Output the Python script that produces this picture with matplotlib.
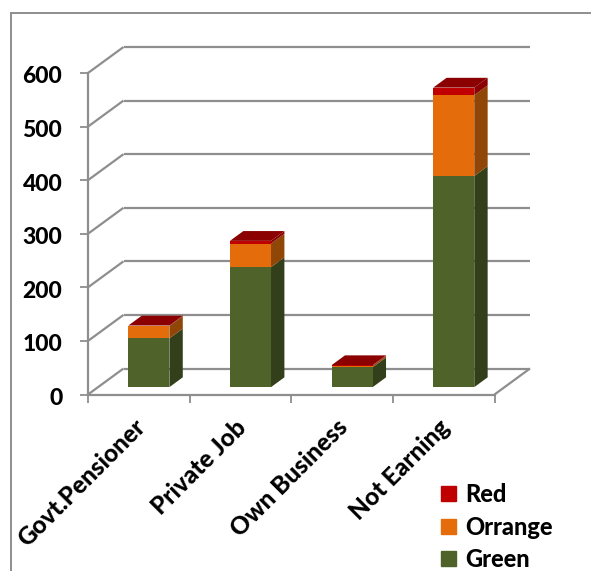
import matplotlib
matplotlib.use("Agg")
import matplotlib.pyplot as plt
from matplotlib.lines import Line2D
from matplotlib.patches import Patch
from matplotlib.transforms import ScaledTranslation

plt.rcParams['font.family'] = ['Lato', 'DejaVu Sans']
plt.rcParams['font.weight'] = 'bold'

categories = ['Govt.Pensioner', 'Private Job', 'Own Business', 'Not Earning']
green = [91, 224, 37, 394]
orrange = [23, 44, 3, 151]
red = [1, 5, 1, 14]
y_ticks = [0, 100, 200, 300, 400, 500, 600]

front_cols = ['#4F622A', '#E46C0A', '#C00000']
side_cols = ['#323F1A', '#8F4606', '#8B0000']
top_col = '#8B0000'
line_col = '#8E8E8E'

W, H = 591, 571
fig = plt.figure(figsize=(W / 100, H / 100), dpi=100)
ax = fig.add_axes([88 / W, (H - 394.5) / H, 406.5 / W, 321.5 / H])
ax.set_xlim(0, 4)
ax.set_ylim(0, 600)
ax.patch.set_visible(False)

# oblique depth, wall offset in data units
DX = 35.5 / 101.6
DY = 26 * 600 / 321.5


def proj(x, y, d):
    return x + d * DX, y + d * DY


def face(pts, col, z):
    xs, ys = zip(*[proj(*p) for p in pts])
    ax.fill(xs, ys, color=col, lw=0, zorder=z, clip_on=False)


def wall_line(p1, p2):
    a = proj(*p1)
    b = proj(*p2)
    ax.plot([a[0], b[0]], [a[1], b[1]], color=line_col, lw=1.6, zorder=1,
            clip_on=False, solid_capstyle='butt')


# walls and floor
for t in y_ticks:
    wall_line((0, t, 0), (0, t, 1))
    wall_line((0, t, 1), (4, t, 1))
wall_line((4, 0, 0), (4, 0, 1))

# bars
bar_w = 0.404
d0 = 0.283
d1 = 0.66
for i in range(len(categories)):
    x0 = i + 0.5 - bar_w / 2
    x1 = x0 + bar_w
    base = 0
    for vals, fc, sc in zip([green, orrange, red], front_cols, side_cols):
        top = base + vals[i]
        face([(x1, base, d0), (x1, base, d1), (x1, top, d1), (x1, top, d0)], sc, 3)
        face([(x0, base, d0), (x1, base, d0), (x1, top, d0), (x0, top, d0)], fc, 4)
        base = top
    face([(x0, base, d0), (x1, base, d0), (x1, base, d1), (x0, base, d1)], top_col, 5)

# axes
for s in ['top', 'right']:
    ax.spines[s].set_visible(False)
for s in ['left', 'bottom']:
    ax.spines[s].set_color(line_col)
    ax.spines[s].set_linewidth(1.6)
ax.set_yticks(y_ticks)
ax.set_xticks(range(5))
ax.set_xticklabels([])
ax.set_xticks([i + 0.5 for i in range(4)], minor=True)
ax.set_xticklabels(categories, minor=True, rotation=45, ha='right',
                   rotation_mode='anchor', fontsize=17.6, fontweight=900)
ax.tick_params(axis='x', which='minor', length=0, pad=15)
ax.tick_params(axis='both', which='major', length=5.5, width=1.3, color=line_col)
ax.tick_params(axis='y', labelsize=16.5, pad=13)
for lab in ax.get_yticklabels():
    lab.set_fontweight(900)
    lab.set_transform(lab.get_transform() + ScaledTranslation(0, -2 / 100, fig.dpi_scale_trans))
for lab in ax.get_xticklabels(minor=True):
    lab.set_transform(lab.get_transform() + ScaledTranslation(-6 / 100, 0, fig.dpi_scale_trans))

# legend
handles = [Patch(color=front_cols[2]), Patch(color=front_cols[1]), Patch(color=front_cols[0])]
fig.legend(handles, ['Red', 'Orrange', 'Green'], loc='lower left',
           bbox_to_anchor=(441 / W, 0), frameon=False, borderpad=0, borderaxespad=0,
           prop={'size': 17, 'weight': 900},
           handlelength=0.63, handleheight=0.6, handletextpad=0.38, labelspacing=0.40)

# outer frame, cut off at the top left
fig.add_artist(Line2D([11 / W, 11 / W], [0, 1 - 12.5 / H], color=line_col, lw=1.4))
fig.add_artist(Line2D([11 / W, 1], [1 - 12.5 / H, 1 - 12.5 / H], color=line_col, lw=1.4))

fig.savefig('out.png', dpi=100)
